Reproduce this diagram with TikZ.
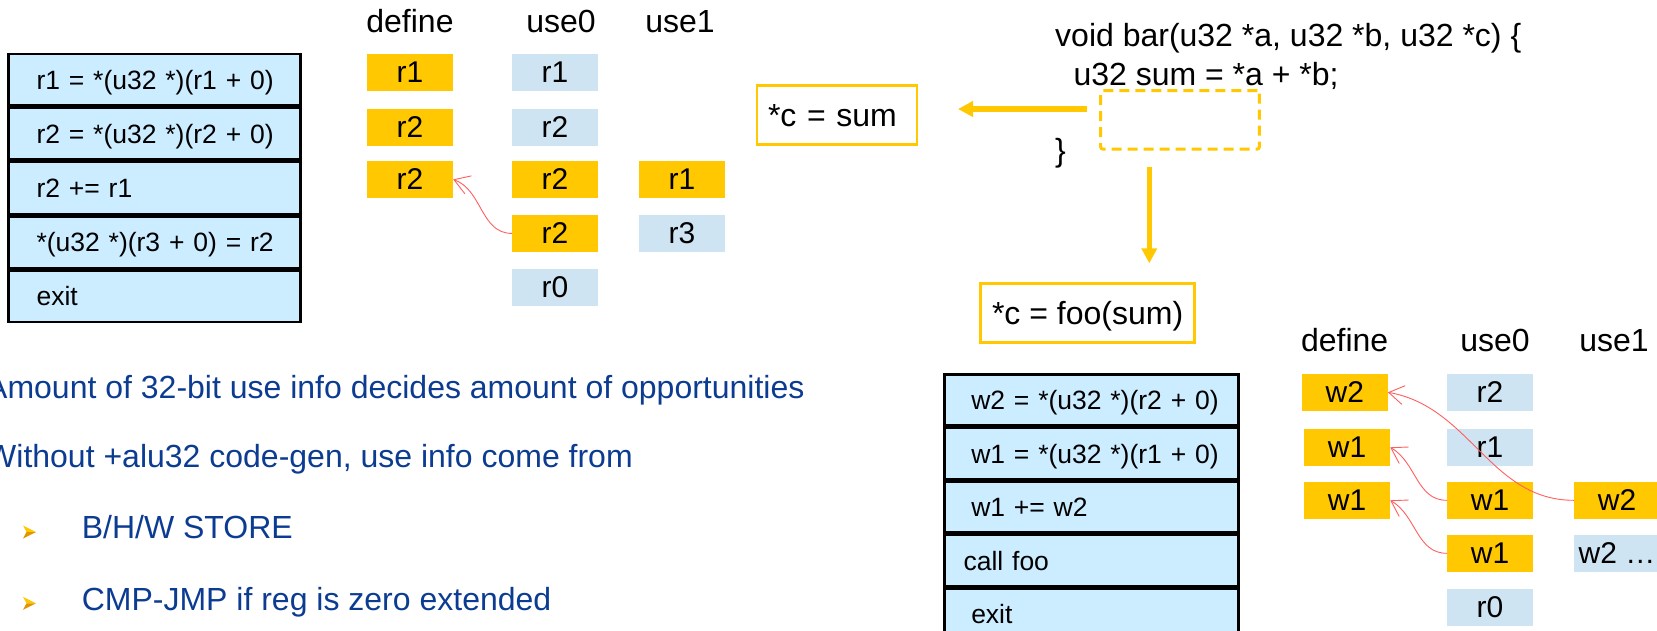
\documentclass[tikz,border=0pt]{standalone}
\usepackage{fontspec}
\setmainfont{Liberation Sans}
\usetikzlibrary{arrows.meta}
\definecolor{gold}{RGB}{255,200,0}
\definecolor{goldd}{RGB}{225,150,0}
\definecolor{tblue}{RGB}{204,236,255}
\definecolor{bblue}{RGB}{207,228,242}
\definecolor{txtblue}{RGB}{12,60,145}
\definecolor{redl}{RGB}{255,95,95}
\newcommand\tbf{\fontsize{26.5}{31}\selectfont}
\newcommand\bxf{\fontsize{30}{36}\selectfont}
\newcommand\bgf{\fontsize{32}{38}\selectfont}
\begin{document}
\begin{tikzpicture}[x=1pt,y=1pt,
  row/.style={draw=black, line width=2.5pt, fill=tblue, anchor=north west, inner ysep=0pt, align=left, text height=19pt, text depth=0pt, font=\tbf},
  rowA/.style={row, minimum height=51.6pt, text width=235.7pt, inner xsep=28pt},
  rowB/.style={row, minimum height=51pt, text width=240pt, inner xsep=27pt},
  cell/.style={minimum width=86pt, minimum height=36.7pt, inner sep=0pt, font=\bxf, text height=19.5pt, text depth=0pt},
  yc/.style={cell, fill=gold},
  bc/.style={cell, fill=bblue},
  hdr/.style={anchor=base, inner sep=0pt, font=\bgf},
  code/.style={anchor=base west, inner sep=0pt, font=\bgf},
  note/.style={anchor=base west, inner sep=0pt, font=\bgf, text=txtblue},
  gbox/.style={draw=gold, line width=2.5pt, font=\bgf, text height=23pt, text depth=0pt},
  garrow/.style={draw=gold, line width=5.5pt, -{Triangle[length=15pt,width=15pt]}},
  rarrow/.style={draw=redl, line width=0.9pt, -{Straight Barb[length=15pt,width=19pt]}}
]
\useasboundingbox (0,0) rectangle (1657,-630);
\clip (0,0) rectangle (1657,-630);

% top-left table
\node[rowA] (t1) at (7.3,-52.7) {\mbox{r1 = *(u32 *)(r1 + 0)}};
\node[rowA] (t2) at (t1.south west) {\mbox{r2 = *(u32 *)(r2 + 0)}};
\node[rowA] (t3) at (t2.south west) {\mbox{r2 += r1}};
\node[rowA] (t4) at (t3.south west) {\mbox{*(u32 *)(r3 + 0) = r2}};
\node[rowA] (t5) at (t4.south west) {\mbox{exit}};

% top define/use
\node[hdr] (h1) at (410,-32.3) {define};
\node[hdr] (h2) at (561,-32.3) {use0};
\node[hdr] (h3) at (680,-32.3) {use1};
\node[yc] (d1) at (410,-72.4) {r1};
\node[yc] (d2) at (410,-127.4) {r2};
\node[yc] (d3) at (410,-179.4) {r2};
\node[bc] (a1) at (555,-72.4) {r1};
\node[bc] (a2) at (555,-127.4) {r2};
\node[yc] (a3) at (555,-179.4) {r2};
\node[yc] (a4) at (555,-233.4) {r2};
\node[bc] (a5) at (555,-287.4) {r0};
\node[yc] (b3) at (682,-179.4) {r1};
\node[bc] (b4) at (682,-233.4) {r3};
\draw[rarrow] (a4.west) to[out=180,in=-20] (d3.east);

% code
\node[code] (c1) at (1055,-46.7) {void bar(u32 *a, u32 *b, u32 *c) \{};
\node[code] (c2) at (1073.3,-85) {u32 sum = *a + *b;};
\node[code] (c3) at (1055,-161.6) {\}};
\node[draw=gold, line width=3pt, dash pattern=on 10pt off 6pt, rounded corners=2pt, minimum width=158.6pt, minimum height=58.3pt, inner sep=0pt] (db) at (1180,-119.85) {};
\node[gbox, minimum width=160pt, minimum height=58.6pt, text width=138pt, inner xsep=11pt, inner ysep=0pt, align=left] (cs) at (837,-115) {*c = sum};
\node[gbox, minimum width=214pt, minimum height=59pt, inner sep=0pt] (cf) at (1087.6,-312.8) {*c = foo(sum)};
\coordinate (ls) at (1087,-109);
\coordinate (le) at (958,-109);
\draw[garrow] (ls) -- (le);
\coordinate (ds) at (1149.3,-166.7);
\coordinate (de) at (1149.3,-263.3);
\draw[garrow] (ds) -- (de);

% bottom table
\node[rowB] (s1) at (943,-373.3) {\mbox{w2 = *(u32 *)(r2 + 0)}};
\node[rowB] (s2) at (s1.south west) {\mbox{w1 = *(u32 *)(r1 + 0)}};
\node[rowB] (s3) at (s2.south west) {\mbox{w1 += w2}};
\node[rowB] (s4) at (s3.south west) {\mbox{\hspace*{-7.7pt}call foo}};
\node[rowB] (s5) at (s4.south west) {\mbox{exit}};

% bottom define/use
\node[hdr] (k1) at (1344.6,-351.7) {define};
\node[hdr] (k2) at (1495,-351.7) {use0};
\node[hdr] (k3) at (1614,-351.7) {use1};
\node[yc, minimum width=85.7pt] (e1) at (1344.85,-392.3) {w2};
\node[yc] (e2) at (1347,-447.3) {w1};
\node[yc] (e3) at (1347,-500.3) {w1};
\node[bc] (f1) at (1490,-392.3) {r2};
\node[bc] (f2) at (1490,-447.3) {r1};
\node[yc] (f3) at (1490,-500.3) {w1};
\node[yc] (f4) at (1490,-553.3) {w1};
\node[bc] (f5) at (1490,-607.3) {r0};
\node[yc] (g3) at (1617,-500.3) {w2};
\node[bc] (g4) at (1617,-553.3) {w2 …};
\draw[rarrow] (g3.west) to[out=180,in=-10] (e1.east);
\draw[rarrow] (f3.west) to[out=180,in=-30] (e2.east);
\draw[rarrow] (f4.west) to[out=180,in=-30] (e3.east);

% notes
\node[note] (n1) at (-14,-398.3) {Amount of 32-bit use info decides amount of opportunities};
\node[note] (n2) at (-14,-467.3) {Without +alu32 code-gen, use info come from};
\node[note] (n3) at (81.6,-538.3) {B/H/W STORE};
\node[note] (n4) at (81.6,-610) {CMP-JMP if reg is zero extended};
\fill[gold] (36,-532) -- (23,-525.5) -- (26.5,-532) -- cycle;
\fill[goldd] (36,-532) -- (23,-538.5) -- (26.5,-532) -- cycle;
\fill[gold] (36,-603.3) -- (23,-596.8) -- (26.5,-603.3) -- cycle;
\fill[goldd] (36,-603.3) -- (23,-609.8) -- (26.5,-603.3) -- cycle;
\end{tikzpicture}
\end{document}
